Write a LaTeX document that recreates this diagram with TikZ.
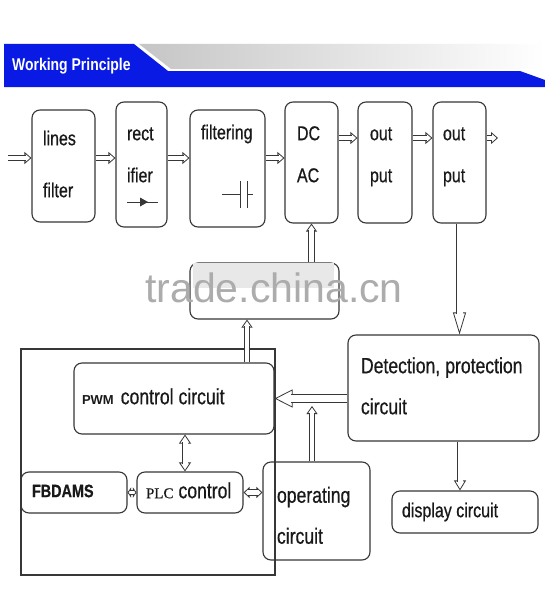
\documentclass[tikz,border=0pt]{standalone}
\usepackage{fontspec}
\usetikzlibrary{arrows.meta}
\setmainfont{Liberation Sans}
\newfontfamily\nar[FakeStretch=0.8,FakeBold=0.6]{Liberation Sans}
\newfontfamily\hdr[FakeStretch=0.82]{Liberation Sans}
\newfontfamily\serifpl[FakeBold=0.4]{Liberation Serif}
\definecolor{linec}{RGB}{55,55,55}
\definecolor{txt}{RGB}{25,25,25}
\definecolor{hblue}{RGB}{8,26,228}
\newcommand\ms{\rule[-0.28em]{0pt}{1.08em}}
\newcommand\dep[1]{\rule[-#1]{0pt}{0pt}}
\newcommand\hgt[1]{\rule{0pt}{#1}}
\newcommand\gapw[1]{\hspace{#1}}
\newcommand\harrow[5]{%
 \draw[conn,-{Triangle[length=#2,width=#3,fill=white]}] #4 -- #5;
 \draw[conn,double=white,double distance=#1,shorten >=#2-1.2pt] #4 -- #5;}
\newcommand\hharrow[5]{%
 \draw[conn,{Triangle[length=#2,width=#3,fill=white]}-{Triangle[length=#2,width=#3,fill=white]}] #4 -- #5;
 \draw[conn,double=white,double distance=#1,shorten >=#2-1.2pt,shorten <=#2-1.2pt] #4 -- #5;}
\tikzset{
 box/.style={draw=linec, line width=1.1pt, rounded corners=8pt, inner sep=0pt, align=left, text=txt},
 conn/.style={draw=linec, line width=0.8pt},
}
\begin{document}
\begin{tikzpicture}[x=1pt,y=-1pt]
\useasboundingbox (0,0) rectangle (545,602);
\fill[white] (0,0) rectangle (545,602);
% header
\fill[hblue] (4,44) -- (134,44) -- (168,71) -- (520,71) -- (545,80) -- (545,87) -- (4,87) -- cycle;
\shade[left color=gray!45, right color=white] (139,44) -- (545,44) -- (545,69) -- (171,69) -- cycle;
\node[anchor=west, text=white, font=\hdr\bfseries\fontsize{17pt}{17pt}\selectfont, inner sep=0pt] (title) at (12,66) {Working\gapw{4pt}Principle};

% top row
\node[box, minimum width=63pt, minimum height=112pt, text width=41pt, font={\nar\fontsize{20pt}{52pt}\selectfont}] (lf) at (63.5,166) {\ms lines\\\ms filter};
\node[box, minimum width=51pt, minimum height=125pt, text width=29pt, font={\nar\fontsize{20pt}{42pt}\selectfont}] (rc) at (141.5,164.5) {\ms rect\\\ms ifier\dep{22.6pt}};
\node[box, minimum width=75pt, minimum height=117pt, text width=53pt, font={\nar\fontsize{20pt}{42pt}\selectfont}] (ft) at (227.5,168.5) {\ms filtering\dep{74.6pt}};
\node[box, minimum width=53pt, minimum height=121pt, text width=29pt, font={\nar\fontsize{20pt}{42pt}\selectfont}] (dc) at (311.5,162.5) {\ms DC\\\ms AC\dep{18.6pt}};
\node[box, minimum width=54pt, minimum height=121pt, text width=30pt, font={\nar\fontsize{20pt}{42pt}\selectfont}] (o1) at (385,162.5) {\ms out\\\ms put\dep{18.6pt}};
\node[box, minimum width=53pt, minimum height=121pt, text width=33pt, font={\nar\fontsize{20pt}{42pt}\selectfont}] (o2) at (459.5,162.5) {\ms out\\\ms put\dep{18.6pt}};

% diode symbol
\draw[conn] (127,202) -- (158,202);
\fill[linec] (148,202) -- (140,197.5) -- (140,206.5) -- cycle;
% capacitor symbol
\draw[conn] (222,194) -- (240,194) (247,194) -- (253,194);
\draw[conn] (240,181) -- (240,208) (247,181) -- (247,208);

% driver box (label hidden by watermark)
\node[box, minimum width=149pt, minimum height=56pt] (drv) at (264.5,291) {};

% detection / display
\node[box, minimum width=191pt, minimum height=106pt, text width=165pt, font={\nar\fontsize{22pt}{41pt}\selectfont}] (det) at (443.5,388) {\ms Detection,\gapw{5pt}protection\\\ms circuit};
\node[box, minimum width=146pt, minimum height=42pt, text width=126pt, font={\nar\fontsize{20pt}{20pt}\selectfont}] (disp) at (465,512) {\ms display\gapw{4.5pt}circuit};

% control frame
\node[draw=linec, line width=1.1pt, minimum width=254pt, minimum height=226pt, inner sep=0pt] (frame) at (148,462) {};
\node[box, minimum width=200pt, minimum height=71pt, text width=184pt, font={\nar\fontsize{22pt}{22pt}\selectfont}] (pwm) at (174,398.5) {\ms{\normalfont\bfseries\fontsize{13pt}{13pt}\selectfont PWM}\gapw{7pt}control\gapw{5pt}circuit};
\node[box, minimum width=106pt, minimum height=41pt, text width=84pt, font={\nar\bfseries\fontsize{18pt}{18pt}\selectfont}] (fb) at (74,492.5) {\ms FBDAMS};
\node[box, minimum width=106pt, minimum height=41pt, text width=88pt, font={\nar\fontsize{22pt}{22pt}\selectfont}] (plc) at (190,492.5) {\ms{\serifpl\fontsize{15pt}{15pt}\selectfont PLC}\gapw{5pt}control};
\node[box, minimum width=107pt, minimum height=98pt, text width=79pt, font={\nar\fontsize{22pt}{41pt}\selectfont}] (op) at (316.5,511) {\ms\hgt{30.6pt}operating\\\ms circuit};

% free ends
\coordinate (in0) at (8,158);
\coordinate (r2) at (0,138);
\coordinate (outE) at (498,138);
\coordinate (opT) at (312,406);

% top row arrows
\harrow{4pt}{7pt}{12pt}{(in0)}{(lf.west |- in0)}
\harrow{4pt}{7pt}{12pt}{(lf.east |- in0)}{(rc.west |- in0)}
\harrow{4pt}{7pt}{12pt}{(rc.east |- in0)}{(ft.west |- in0)}
\harrow{4pt}{7pt}{12pt}{(ft.east |- in0)}{(dc.west |- in0)}
\harrow{4pt}{7pt}{12pt}{(dc.east |- r2)}{(o1.west |- r2)}
\harrow{4pt}{7pt}{12pt}{(o1.east |- r2)}{(o2.west |- r2)}
\harrow{4pt}{7pt}{12pt}{(o2.east |- r2)}{(outE)}

% vertical arrows
\harrow{4.5pt}{8pt}{11pt}{(dc |- drv.north)}{(dc.south)}
\harrow{4.5pt}{8pt}{11pt}{(247,0 |- pwm.north)}{(247,0 |- drv.south)}
\harrow{6pt}{22pt}{13pt}{(o2.south)}{(o2 |- det.north)}
\harrow{5pt}{10pt}{12pt}{(460,0 |- det.south)}{(460,0 |- disp.north)}
\harrow{7.5pt}{18pt}{18pt}{(det.west |- pwm.east)}{(pwm.east)}
\harrow{4.5pt}{8pt}{11pt}{(312,0 |- op.north)}{(opT)}
\hharrow{5pt}{9pt}{12pt}{(185,0 |- pwm.south)}{(185,0 |- plc.north)}
\hharrow{3pt}{3.5pt}{10pt}{(fb.east)}{(plc.west)}
\hharrow{4.5pt}{6pt}{11pt}{(plc.east)}{(op.west |- plc.east)}

% watermark
\fill[gray!18] (193,263) rectangle (334,288);
\node[anchor=base west, inner sep=0pt, text=gray!65, font=\fontsize{41pt}{41pt}\selectfont] (wm) at (145,302) {trade.china.cn};
\end{tikzpicture}
\end{document}
